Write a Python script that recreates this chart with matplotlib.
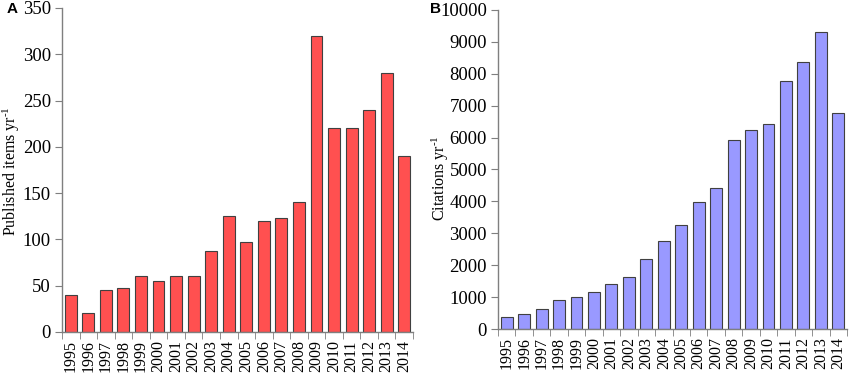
import matplotlib
matplotlib.use("Agg")
import matplotlib.pyplot as plt
import numpy as np

years = [str(y) for y in range(1995, 2015)]
published = [40, 20, 45, 47, 60, 55, 60, 60, 87, 125, 97, 120, 123, 140, 320, 220, 220, 240, 280, 190]
citations = [370, 470, 615, 900, 990, 1170, 1420, 1640, 2200, 2765, 3270, 3990, 4405, 5910, 6230, 6430, 7780, 8360, 9310, 6775]

plt.rcParams['font.family'] = ['Liberation Serif', 'DejaVu Serif']
plt.rcParams['mathtext.fontset'] = 'custom'
plt.rcParams['mathtext.rm'] = 'Liberation Serif'
plt.rcParams['mathtext.it'] = 'Liberation Serif:italic'

fig = plt.figure(figsize=(8.5, 3.74), dpi=100)
axA = fig.add_axes([62/850, 1-332/374, (413-62)/850, (332-8)/374])
axB = fig.add_axes([498/850, 1-329/374, (847-498)/850, (329-10)/374])

spine_col = '#7f7f7f'

def style(ax, vals, color, ylim, yticks, ylabel, lx, ly):
    x = np.arange(len(years))
    ax.bar(x, vals, width=0.68, color=color, edgecolor='#404040', linewidth=0.8, zorder=2)
    ax.set_xlim(-0.5, len(years)-0.5)
    ax.set_ylim(*ylim)
    ax.set_yticks(yticks)
    ax.set_yticklabels([str(t) for t in yticks], fontsize=13.5)
    ax.set_xticks(x)
    ax.set_xticklabels(years, rotation=90, fontsize=11.5)
    ax.set_xticks(np.arange(-0.5, len(years)), minor=True)
    ax.tick_params(axis='x', which='major', length=0, pad=6)
    ax.tick_params(axis='x', which='minor', length=5, color=spine_col, direction='out')
    ax.tick_params(axis='y', length=5, color=spine_col, direction='out', pad=3)
    for s in ['top', 'right']:
        ax.spines[s].set_visible(False)
    for s in ['left', 'bottom']:
        ax.spines[s].set_color(spine_col)
        ax.spines[s].set_linewidth(1.0)
    ax.set_ylabel(ylabel, fontsize=11.5)
    ax.yaxis.set_label_coords(lx, ly)

style(axA, published, '#ff5050', (0, 350), list(range(0, 351, 50)),
      r'Published items yr$^{\text{-1}}$', -0.114, 0.497)
style(axB, citations, '#9999ff', (0, 10000), list(range(0, 10001, 1000)),
      r'Citations yr$^{\text{-1}}$', -0.136, 0.473)

fig.text(7/850, 1-9/374, 'A', fontsize=11, fontweight='bold', family='Liberation Sans', va='center')
fig.text(430/850, 1-9/374, 'B', fontsize=11, fontweight='bold', family='Liberation Sans', va='center')

fig.savefig('out.png', dpi=100)
